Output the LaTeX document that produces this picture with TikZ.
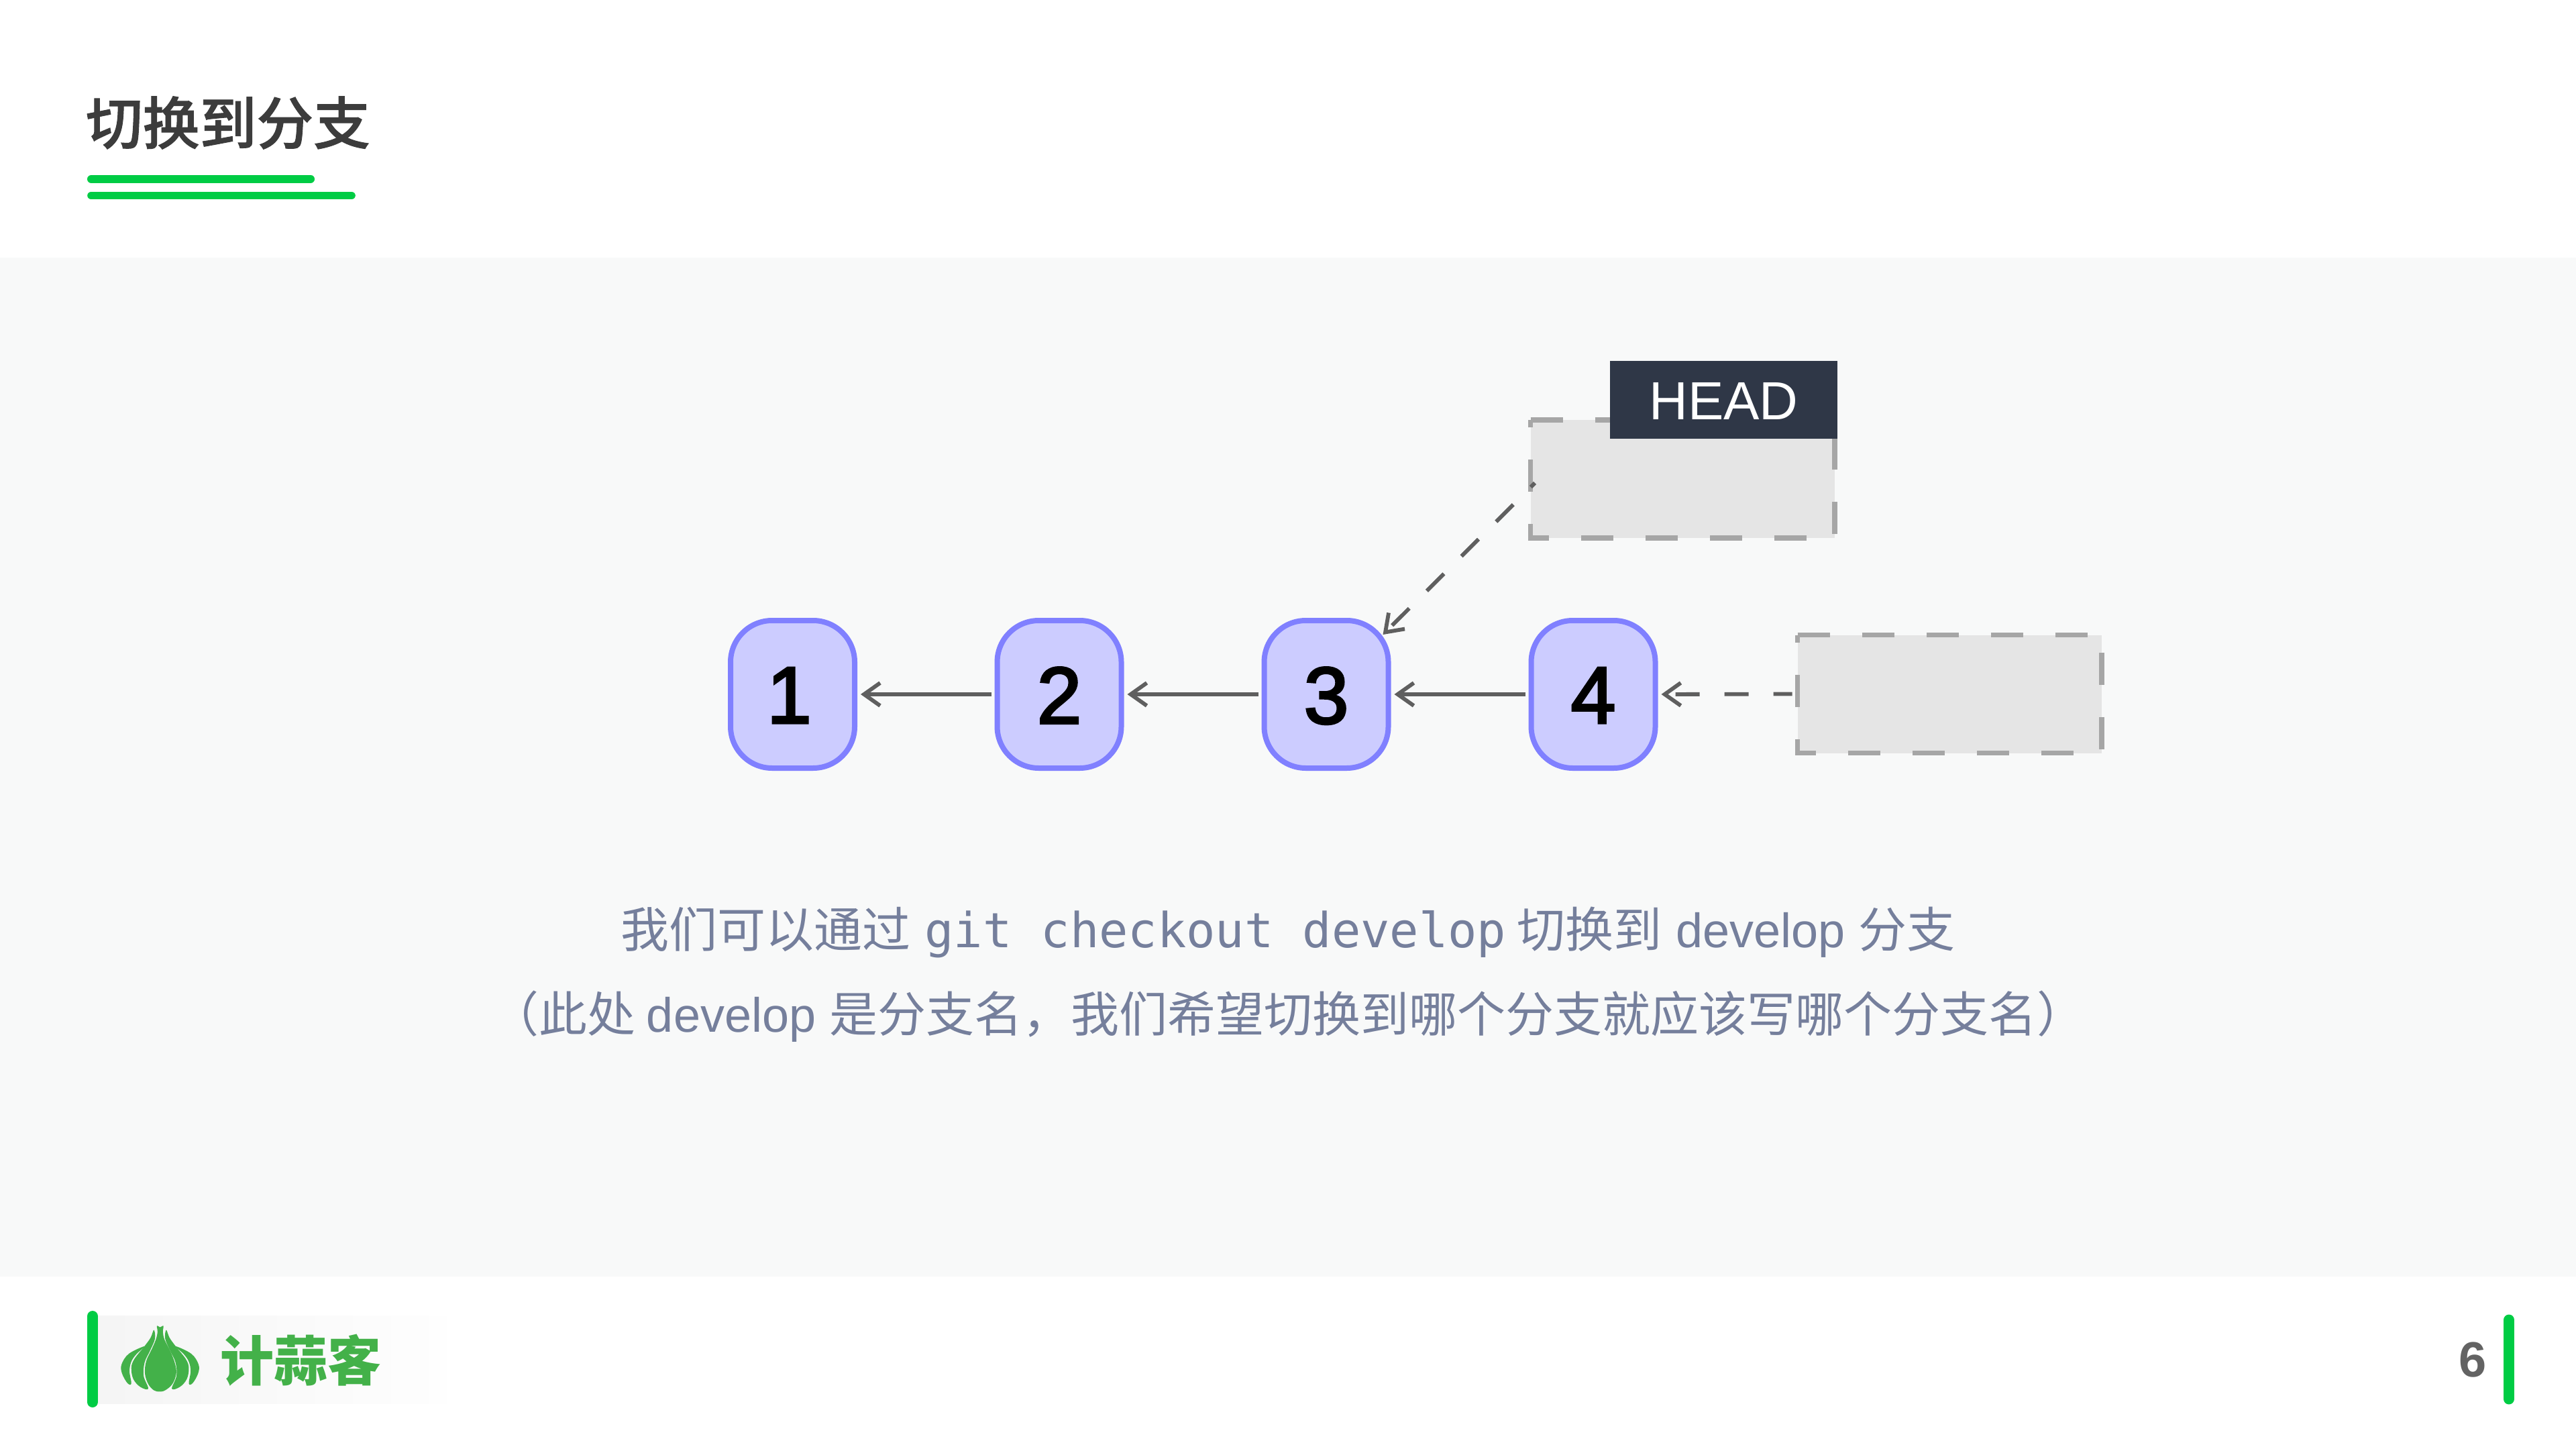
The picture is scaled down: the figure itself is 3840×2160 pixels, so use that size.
\documentclass[tikz,border=0pt]{standalone}
\usepackage{fontspec}
\usetikzlibrary{arrows.meta,calc}
\setmainfont{Liberation Sans}
\setmonofont{DejaVu Sans Mono}
\newfontfamily\cjk{Noto Sans CJK SC}
\newfontfamily\cjkmed[UprightFont={* Medium},FakeBold=1.1]{Noto Sans CJK SC}
\newfontfamily\digitfont[FakeBold=2.8]{Liberation Sans}
\newcommand{\drop}[2]{\raisebox{-#1}[\height][0pt]{#2}}
\definecolor{pagegreen}{HTML}{00CC44}
\definecolor{panelbg}{HTML}{F8F9F9}
\definecolor{titleink}{HTML}{3C3C3C}
\definecolor{bodyink}{HTML}{757F9C}
\definecolor{nodefill}{HTML}{CCCCFF}
\definecolor{nodeedge}{HTML}{8080FF}
\definecolor{boxfill}{HTML}{E5E5E5}
\definecolor{boxedge}{HTML}{A6A6A6}
\definecolor{linkink}{HTML}{5F5F5F}
\definecolor{headfill}{HTML}{2F3747}
\definecolor{logogreen}{HTML}{43B149}
\definecolor{pagenum}{HTML}{636363}
\tikzset{
  commit/.style={draw=nodeedge,fill=nodefill,line width=2pt,rounded corners=15.5pt,
    minimum width=46.25pt,minimum height=55pt,inner sep=0pt,
    font=\fontsize{30}{30}\digitfont,text=black},
  refbox/.style={fill=boxfill,minimum width=113.4pt,minimum height=44pt,inner sep=0pt,outer sep=0pt},
  refedge/.style={draw=boxedge,line width=1.9pt,dash pattern=on 12pt off 12pt},
  link/.style={draw=linkink,line width=1.45pt,-{Straight Barb[length=6pt,width=8.5pt]}},
  dashlink/.style={link,dash pattern=on 9pt off 9.25pt},
  bodytext/.style={inner sep=0pt,text=bodyink,font=\fontsize{18}{18}\selectfont},
  bar/.style={draw=pagegreen,line cap=round},
}
\begin{document}
\begin{tikzpicture}[x=0.25pt,y=-0.25pt]
\useasboundingbox (0,0) rectangle (3840,2160);
\fill[white] (0,0) rectangle (3840,2160);
\fill[panelbg] (0,384) rectangle (3840,1903);
% title
\node[inner sep=0pt,text=titleink,font=\fontsize{21.2}{21.2}\cjkmed] (title) at (340,183) {切换到分支};
\draw[bar,line width=3pt] (136,267) -- (463,267);
\draw[bar,line width=2.9pt] (136,291.5) -- (524,291.5);
% reference boxes
\node[refbox] (box1) at (2508.3,714) {};
\node[refbox] (box2) at (2906.3,1034.5) {};
\draw[refedge] (box1.north west) -- (box1.north east) -- (box1.south east) -- (box1.south west) -- cycle;
\draw[refedge] (box2.north west) -- (box2.north east) -- (box2.south east) -- (box2.south west) -- cycle;
% commits
\node[commit] (n1) at (1181.5,1035) {\kern-2.5pt\drop{0.4pt}{1}};
\node[commit] (n2) at (1579,1035) {\drop{0.4pt}{2}};
\node[commit] (n3) at (1977,1035) {\drop{0.4pt}{3}};
\node[commit] (n4) at (2375,1035) {\drop{0.4pt}{4}};
% links
\draw[link,shorten >=1.25pt,shorten <=1.25pt] (n2.west) -- (n1.east);
\draw[link,shorten >=1.25pt,shorten <=1.25pt] (n3.west) -- (n2.east);
\draw[link,shorten >=1.25pt,shorten <=1.25pt] (n4.west) -- (n3.east);
\draw[dashlink,dash phase=2pt,shorten >=1.25pt,shorten <=0pt] ($(box2.west)+(-8,0)$) -- (n4.east);
\draw[dashlink,dash phase=6.85pt] ($(box1.west)+(6.5,6)$) -- ($(n3.north east)+(-12,25)$);
% HEAD label
\node[fill=headfill,text=white,minimum width=84.6pt,minimum height=29pt,inner sep=0pt,outer sep=0pt,font=\fontsize{20}{20}\selectfont] (head) at (2569.5,596) {\drop{0.5pt}{HEAD}};
% body text
\node[bodytext] (line1) at (1920,1390) {\cjk 我们可以通过\kern1.25pt{} \ttfamily git checkout develop\cjk{} 切换到\kern1.25pt{} \rmfamily develop \cjk 分支};
\node[bodytext] (line2) at (1920,1515) {\cjk （此处 \rmfamily develop \cjk 是分支名，我们希望切换到哪个分支就应该写哪个分支名）};
% footer
\shade[left color=black!4,right color=black!0.4] (146,1961) rectangle (666,2092);
\draw[bar,line width=4pt] (138,1962) -- (138,2090);
\draw[bar,line width=4pt] (3740,1967.5) -- (3740,2085.5);
\node[inner sep=0pt,text=pagenum,font=\fontsize{18.5}{18.5}\selectfont\bfseries] (pageno) at (3686,2027) {6};
\node[inner sep=0pt,text=logogreen,font=\fontsize{20}{20}\selectfont\cjk\bfseries] (logotext) at (448,2028) {计蒜客};
% garlic icon
\begin{scope}[x=0.0957pt,y=-0.0833pt,shift={(261.3,5760)}]
  \fill[logogreen] plot[smooth cycle,tension=0.6] coordinates {(350,172) (362,178) (375,172) (373,200) (380,235) (402,285) (420,340) (425,385) (410,432) (382,460) (360,466) (338,460) (316,432) (303,385) (308,330) (328,280) (345,235) (352,200)};
  \fill[logogreen] plot[smooth cycle,tension=0.6] coordinates {(338,190) (342,230) (322,285) (302,335) (298,395) (316,453) (285,445) (258,410) (250,360) (262,320) (300,265) (325,225)};
  \fill[logogreen] plot[smooth cycle,tension=0.6] coordinates {(302,263) (270,298) (250,332) (243,375) (250,430) (235,428) (214,385) (212,345) (240,297)};
  \begin{scope}[shift={(724,0)},xscale=-1]
    \fill[logogreen] plot[smooth cycle,tension=0.6] coordinates {(338,190) (342,230) (322,285) (302,335) (298,395) (316,453) (285,445) (258,410) (250,360) (262,320) (300,265) (325,225)};
    \fill[logogreen] plot[smooth cycle,tension=0.6] coordinates {(302,263) (270,298) (250,332) (243,375) (250,430) (235,428) (214,385) (212,345) (240,297)};
  \end{scope}
\end{scope}
\end{tikzpicture}
\end{document}
